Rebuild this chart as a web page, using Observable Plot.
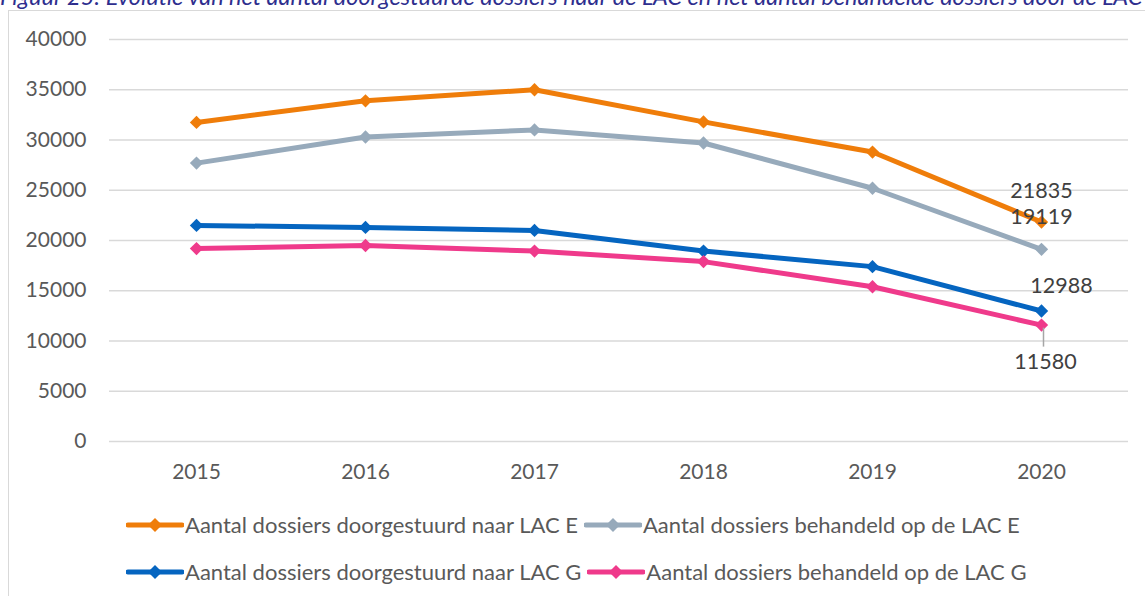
<!DOCTYPE html>
<html><head><meta charset="utf-8">
<script src="https://cdn.jsdelivr.net/npm/d3@7"></script>
<script src="https://cdn.jsdelivr.net/npm/@observablehq/plot@0.6"></script>
<style>
html,body{margin:0;padding:0;background:#fff;overflow:hidden;width:1145px;height:596px;position:relative}
#title{position:absolute;left:0;top:-18px;white-space:nowrap;font:italic 23.5px Lato;color:#2e2e8e}
#frame{position:absolute;left:8px;top:10px;width:1300px;height:700px;border:1.5px solid #d9d9d9;box-sizing:border-box}
#chart{position:absolute;left:0;top:0}
.lrow{position:absolute;left:126px;display:flex;align-items:center;font:22px Lato;color:#595959;white-space:nowrap}
.item{display:flex;align-items:center;margin-right:6px}
.item svg{margin-right:1px}
</style></head>
<body>
<div id="title">Figuur 25: Evolutie van het aantal doorgestuurde dossiers naar de LAC en het aantal behandelde dossiers door de LAC</div>
<div id="frame"></div>
<div id="chart"></div>
<div id="legend"></div>
<script>
const years = ["2015","2016","2017","2018","2019","2020"];
const seriesNames = [
  "Aantal dossiers doorgestuurd naar LAC E",
  "Aantal dossiers behandeld op de LAC E",
  "Aantal dossiers doorgestuurd naar LAC G",
  "Aantal dossiers behandeld op de LAC G"
];
const doorgestuurdE = [31750, 33900, 35000, 31800, 28800, 21835];
const behandeldE    = [27700, 30300, 31000, 29700, 25200, 19119];
const doorgestuurdG = [21500, 21300, 21000, 18950, 17400, 12988];
const behandeldG    = [19200, 19500, 18950, 17900, 15400, 11580];
const seriesColors = ["#ef7d0a", "#97aabb", "#0565c0", "#ef3a8b"];
const yTicks = [0, 5000, 10000, 15000, 20000, 25000, 30000, 35000, 40000];

const allValues = [doorgestuurdE, behandeldE, doorgestuurdG, behandeldG];
const series = seriesNames.map((name, i) => ({
  name, color: seriesColors[i],
  rows: years.map((year, j) => ({year, value: allValues[i][j]}))
}));
const last = s => [s.rows[s.rows.length - 1]];

const marks = [Plot.ruleY(yTicks, {stroke: "#d9d9d9", strokeWidth: 1.6})];
for (const s of series) {
  marks.push(Plot.line(s.rows, {x: "year", y: "value", stroke: s.color, strokeWidth: 5, strokeLinejoin: "round"}));
  marks.push(Plot.dot(s.rows, {x: "year", y: "value", symbol: "diamond2", r: 6, fill: s.color, stroke: "none"}));
}
const lab = {x: "year", y: "value", text: d => String(d.value), fill: "#404040", fontSize: 21.5};
marks.push(Plot.text(last(series[0]), {...lab, dy: -31}));
marks.push(Plot.text(last(series[1]), {...lab, dy: -32}));
marks.push(Plot.text(last(series[2]), {...lab, dx: 20, dy: -25}));
marks.push(Plot.ruleX(last(series[3]), {x: "year", y1: "value", y2: "value", insetTop: 3, insetBottom: -22, dx: 2, stroke: "#a6a6a6", strokeWidth: 1.5}));
marks.push(Plot.text(last(series[3]), {...lab, dx: 4, dy: 37}));

const chart = Plot.plot({
  width: 1145, height: 490,
  marginLeft: 109, marginRight: 17, marginTop: 39, marginBottom: 49,
  style: {fontFamily: "Lato", fontSize: "21px", color: "#595959", background: "transparent", overflow: "visible"},
  x: {type: "point", domain: years, padding: 0.5, label: null, tickSize: 0, tickPadding: 23},
  y: {domain: [0, 40000], ticks: yTicks, label: null, tickSize: 0, tickPadding: 23, tickFormat: d3.format("d")},
  marks
});
document.getElementById("chart").appendChild(chart);

// legend
const legend = document.getElementById("legend");
const rowTops = [511, 558];
[[0, 1], [2, 3]].forEach((pair, r) => {
  const row = document.createElement("div");
  row.className = "lrow";
  row.style.top = rowTops[r] + "px";
  for (const i of pair) {
    const s = series[i];
    const item = document.createElement("div");
    item.className = "item";
    item.innerHTML = `<svg width="58" height="20" viewBox="0 0 58 20"><line x1="2" y1="10" x2="56" y2="10" stroke="${s.color}" stroke-width="5" stroke-linecap="round"/><path d="M29,3 L36,10 L29,17 L22,10 Z" fill="${s.color}"/></svg><span>${s.name}</span>`;
    row.appendChild(item);
  }
  legend.appendChild(row);
});
</script>
</body></html>
